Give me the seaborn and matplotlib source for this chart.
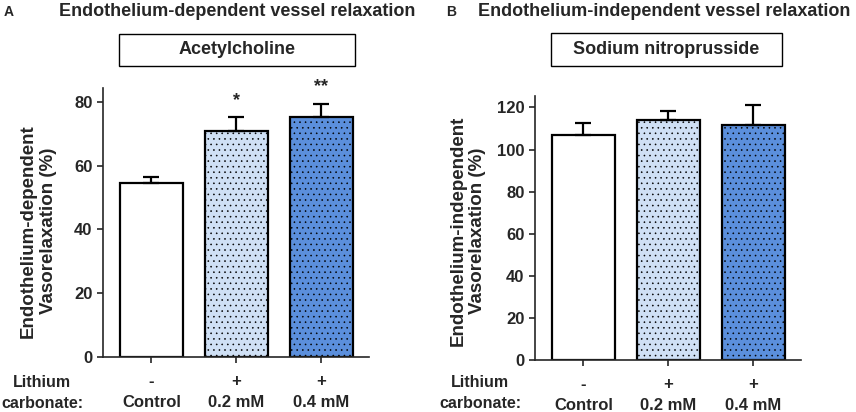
import matplotlib
matplotlib.use("Agg")
import matplotlib.pyplot as plt
import seaborn as sns
import numpy as np
from matplotlib.patches import Rectangle

# values
groups = ["-\nControl", "+\n0.2 mM", "+\n0.4 mM"]
ach_mean = [54.6, 70.9, 75.1]
ach_sem = [1.9, 4.2, 4.3]
ach_sig = ["", "*", "**"]
snp_mean = [106.8, 114.0, 111.9]
snp_sem = [5.7, 4.1, 9.3]
snp_sig = ["", "", ""]
bar_colors = ["#ffffff", "#cfe0f5", "#5b8fdc"]
bar_hatch = ["", "...", "..."]

sns.set_style("ticks")
plt.rcParams["font.family"] = ["Liberation Sans", "DejaVu Sans"]
plt.rcParams["font.weight"] = "bold"
plt.rcParams["hatch.linewidth"] = 0.4
plt.rcParams["hatch.color"] = "#222222"

fig = plt.figure(figsize=(8.56, 4.12), dpi=100)
W, H = 856, 412


def px_axes(l, t, r, b):
    return fig.add_axes([l / W, 1 - b / H, (r - l) / W, (b - t) / H])


def draw_panel(ax, means, sems, sigs, ytop, yticks, ylabel, lab_xy):
    sns.barplot(x=groups, y=means, hue=groups, palette=bar_colors, legend=False,
                width=0.75, edgecolor="black", linewidth=1.6, saturation=1,
                errorbar=None, ax=ax)
    for p, h in zip(ax.patches, bar_hatch):
        p.set_hatch(h)
    xs = np.arange(len(means))
    ax.errorbar(xs, means, yerr=[np.zeros(len(sems)), sems], fmt="none",
                ecolor="black", elinewidth=1.6, capsize=5.5, capthick=1.6,
                zorder=1)
    for x, m, s, t in zip(xs, means, sems, sigs):
        if t:
            ax.text(x, m + s + 2.6, t, ha="center", va="bottom",
                    fontsize=13, fontweight="bold", clip_on=False)
    ax.set_ylim(0, ytop)
    ax.set_yticks(yticks)
    ax.set_xlim(-0.57, 2.56)
    sns.despine(ax=ax)
    for sp in ["left", "bottom"]:
        ax.spines[sp].set_linewidth(1.2)
    ax.tick_params(axis="both", width=1.2, length=4.5, labelsize=12, pad=3)
    ax.tick_params(axis="x", pad=8)
    for lbl in ax.get_xticklabels():
        lbl.set_linespacing(1.45)
        lbl.set_fontweight("bold")
    for lbl in ax.get_yticklabels():
        lbl.set_fontweight("bold")
    ax.set_xlabel("")
    ax.set_ylabel(ylabel, fontsize=13.5, fontweight="bold", va="center",
                  linespacing=1.2)
    ax.yaxis.set_label_coords(*lab_xy)


axA = px_axes(103, 88, 369, 357)
draw_panel(axA, ach_mean, ach_sem, ach_sig, 84.3, [0, 20, 40, 60, 80],
           "Endothelium-dependent\nVasorelaxation (%)", (-0.243, 0.468))

axB = px_axes(535, 95.7, 801, 360)
draw_panel(axB, snp_mean, snp_sem, snp_sig, 125.6, [0, 20, 40, 60, 80, 100, 120],
           "Endothelium-independent\nVasorelaxation (%)", (-0.252, 0.489))

# panel titles, letters and drug boxes
fig.text(237 / W, 1 - 12 / H, "Endothelium-dependent vessel relaxation",
         ha="center", va="center", fontsize=13, fontweight="bold")
fig.text(664 / W, 1 - 12 / H, "Endothelium-independent vessel relaxation",
         ha="center", va="center", fontsize=13, fontweight="bold")
fig.text(9 / W, 1 - 12 / H, "A", ha="center", va="center", fontsize=10,
         fontweight="bold")
fig.text(451 / W, 1 - 12 / H, "B", ha="center", va="center", fontsize=10,
         fontweight="bold")

for (l, r, t, b), name in [((119, 355, 34, 66), "Acetylcholine"),
                           ((551, 782, 33, 66), "Sodium nitroprusside")]:
    fig.add_artist(Rectangle((l / W, 1 - b / H), (r - l) / W, (b - t) / H,
                             transform=fig.transFigure, fill=False,
                             edgecolor="black", linewidth=1.0))
    fig.text((l + r) / 2 / W, 1 - (t + b) / 2 / H, name, ha="center",
             va="center", fontsize=13, fontweight="bold")

for cx in [42, 480]:
    fig.text(cx / W, 1 - 393 / H, "Lithium\ncarbonate:", ha="center",
             va="center", fontsize=11.5, fontweight="bold", linespacing=1.45)

fig.savefig("out.png", dpi=100)
